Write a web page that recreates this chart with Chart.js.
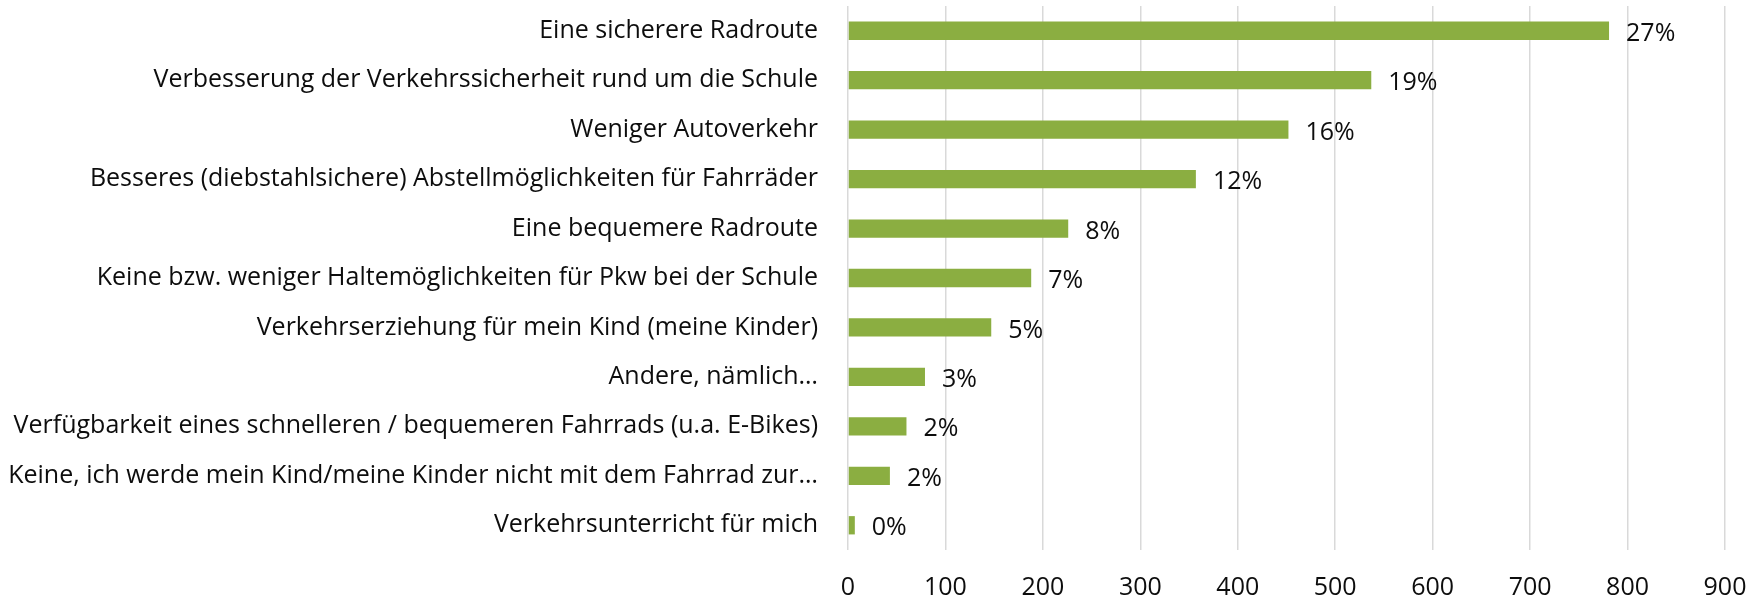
<!DOCTYPE html>
<html>
<head>
<meta charset="utf-8">
<script src="https://cdn.jsdelivr.net/npm/chart.js@4/dist/chart.umd.min.js"></script>
<style>
  html, body { margin: 0; padding: 0; background: #fff; }
  #wrap { width: 1763px; height: 602px; }
</style>
</head>
<body>
<div id="wrap"><canvas id="myChart"></canvas></div>
<script>
const categories = [
  "Eine sicherere Radroute",
  "Verbesserung der Verkehrssicherheit rund um die Schule",
  "Weniger Autoverkehr",
  "Besseres (diebstahlsichere) Abstellmöglichkeiten für Fahrräder",
  "Eine bequemere Radroute",
  "Keine bzw. weniger Haltemöglichkeiten für Pkw bei der Schule",
  "Verkehrserziehung für mein Kind (meine Kinder)",
  "Andere, nämlich…",
  "Verfügbarkeit eines schnelleren / bequemeren Fahrrads (u.a. E-Bikes)",
  "Keine, ich werde mein Kind/meine Kinder nicht mit dem Fahrrad zur…",
  "Verkehrsunterricht für mich"
];
const counts = [781, 537, 452, 357, 226, 188, 147, 79, 60, 43, 7];
const percentLabels = ["27%", "19%", "16%", "12%", "8%", "7%", "5%", "3%", "2%", "2%", "0%"];
const xMin = 0, xMax = 900, xStep = 100;

const fontFamily = "'Open Sans', 'Noto Sans', sans-serif";
const textColor = "#0d0d0d";

// percent labels at the end of each bar
const barLabels = {
  id: "barLabels",
  afterDatasetsDraw(chart) {
    const ctx = chart.ctx;
    const meta = chart.getDatasetMeta(0);
    ctx.save();
    ctx.font = "25px " + fontFamily;
    ctx.fillStyle = textColor;
    ctx.textBaseline = "middle";
    ctx.textAlign = "left";
    meta.data.forEach((bar, i) => {
      ctx.fillText(percentLabels[i], bar.x + 17, bar.y + 3);
    });
    ctx.restore();
  }
};

var ctx = document.getElementById("myChart").getContext("2d");

var myChart = new Chart(ctx, {
  type: "bar",
  data: {
    labels: categories,
    datasets: [
      {
        data: counts,
        backgroundColor: "#8BAE41",
        borderWidth: 0,
        barPercentage: 0.37,
        categoryPercentage: 1,
      },
    ],
  },
  options: {
    indexAxis: "y",
    responsive: true,
    maintainAspectRatio: false,
    animation: false,
    layout: { padding: { top: 6, right: 38, left: 0, bottom: 0 } },
    plugins: {
      legend: { display: false },
      tooltip: { enabled: false },
    },
    scales: {
      x: {
        min: xMin,
        max: xMax,
        ticks: {
          stepSize: xStep,
          padding: 23,
          color: textColor,
          font: { family: fontFamily, size: 25 },
        },
        grid: { color: "#d9d9d9", lineWidth: 1.5, drawTicks: false },
        border: { display: false },
        afterFit(scale) {
          scale.height = 52;
          scale.paddingLeft = 0;
          scale.paddingRight = 0;
        },
      },
      y: {
        ticks: {
          padding: 30,
          color: textColor,
          autoSkip: false,
          font: { family: fontFamily, size: 25 },
        },
        grid: { display: false, drawTicks: false },
        border: { display: false },
        afterFit(scale) {
          scale.width = 848;
          scale.paddingTop = 0;
          scale.paddingBottom = 0;
        },
      },
    },
  },
  plugins: [barLabels],
});
</script>
</body>
</html>
